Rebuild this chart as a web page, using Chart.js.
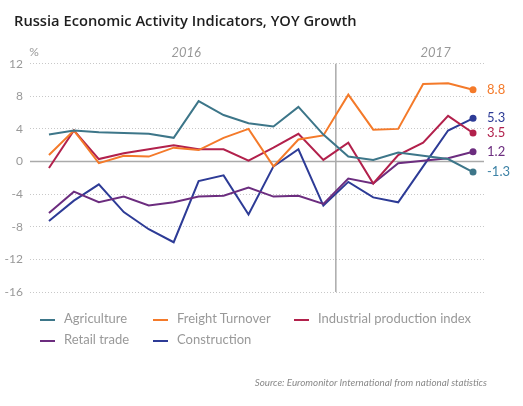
<!DOCTYPE html>
<html>
<head>
<meta charset="utf-8">
<script src="https://cdn.jsdelivr.net/npm/chart.js@4"></script>
<style>
  body { margin: 0; background: #fff; font-family: Lato, "Open Sans", sans-serif; }
  #wrap { position: relative; width: 523px; height: 406px; }
  #myChart { position: absolute; left: 0; top: 0; }
  #legend { position: absolute; left: 0; top: 0; width: 523px; height: 406px; pointer-events: none; }
  .item { position: absolute; font-size: 13px; color: #999; white-space: nowrap; line-height: 16px; }
  .item span.sw { display: inline-block; width: 15px; height: 2px; vertical-align: middle; margin-right: 9px; }
  #source { position: absolute; right: 36px; top: 376px; font-size: 9.8px; font-style: italic; color: #888; }
</style>
</head>
<body>
<div id="wrap">
  <canvas id="myChart" width="523" height="406"></canvas>
  <div id="legend"></div>
  <div id="source">Source: Euromonitor International from national statistics</div>
</div>
<script>
// months Jan 2016 .. Jun 2017
const months = ['Jan', 'Feb', 'Mar', 'Apr', 'May', 'Jun', 'Jul', 'Aug', 'Sep', 'Oct', 'Nov', 'Dec',
    'Jan', 'Feb', 'Mar', 'Apr', 'May', 'Jun'];
const years = ['2016', '2017'];
const yTicks = [12, 8, 4, 0, -4, -8, -12, -16];

const seriesNames = ['Agriculture', 'Freight Turnover', 'Industrial production index', 'Retail trade', 'Construction'];
const agriculture = [3.3, 3.8, 3.6, 3.5, 3.4, 2.9, 7.4, 5.7, 4.7, 4.3, 6.7, 3.3, 0.6, 0.2, 1.1, 0.7, 0.3, -1.3];
const freight = [0.8, 3.8, -0.2, 0.7, 0.6, 1.7, 1.4, 2.9, 4.0, -0.6, 2.7, 3.2, 8.2, 3.9, 4.0, 9.5, 9.6, 8.8];
const industrial = [-0.8, 3.8, 0.3, 1.0, 1.5, 2.0, 1.5, 1.5, 0.1, 1.7, 3.4, 0.2, 2.3, -2.7, 0.8, 2.3, 5.6, 3.5];
const retail = [-6.3, -3.7, -5.0, -4.3, -5.4, -5.0, -4.3, -4.2, -3.2, -4.3, -4.2, -5.2, -2.1, -2.7, -0.2, 0.1, 0.4, 1.2];
const construction = [-7.3, -4.8, -2.8, -6.2, -8.3, -9.9, -2.4, -1.7, -6.5, -0.6, 1.5, -5.4, -2.5, -4.4, -5.0, -0.6, 3.8, 5.3];

const colors = ['#3d7689', '#f47a2a', '#b2214c', '#6c2d7f', '#2d3b96'];
const labelColors = ['#3d82a6', '#f47a2a', '#b2214c', '#6c2d7f', '#2d3b96'];

const allSeries = [agriculture, freight, industrial, retail, construction];
const last = months.length - 1;

const datasets = allSeries.map(function (vals, i) {
    return {
        label: seriesNames[i],
        data: vals.map(function (v, j) { return {x: j, y: v}; }),
        borderColor: colors[i],
        backgroundColor: colors[i],
        borderWidth: 2,
        tension: 0,
        pointRadius: function (ctx) { return ctx.dataIndex === last ? 3.5 : 0; },
        pointBorderWidth: 0,
        pointHoverRadius: 0
    };
});

// zero line, year divider and year labels, % sign, end labels
const extras = {
    id: 'extras',
    afterLayout(chart) {
        // let the y tick labels use the space left of the axis
        chart.scales.y.left = 0;
    },
    beforeDatasetsDraw(chart) {
        const ctx = chart.ctx;
        const x = chart.scales.x, y = chart.scales.y;
        const a = chart.chartArea;
        ctx.save();
        ctx.strokeStyle = '#aaa';
        ctx.lineWidth = 1.5;
        ctx.beginPath();
        const y0 = y.getPixelForValue(0);
        ctx.moveTo(a.left, y0);
        ctx.lineTo(a.right, y0);
        const xd = x.getPixelForValue(11.5);
        ctx.moveTo(xd, a.top);
        ctx.lineTo(xd, a.bottom);
        ctx.stroke();
        ctx.restore();
    },
    afterDraw(chart) {
        const ctx = chart.ctx;
        const x = chart.scales.x;
        const a = chart.chartArea;
        ctx.save();
        ctx.fillStyle = '#999';
        ctx.font = 'italic 13px Lato, sans-serif';
        ctx.textAlign = 'center';
        ctx.textBaseline = 'middle';
        ctx.fillText(years[0], x.getPixelForValue(5.5), a.top - 11);
        ctx.fillText(years[1], x.getPixelForValue(15.5), a.top - 11);
        ctx.font = '12px Lato, sans-serif';
        ctx.fillText('%', 34, a.top - 12);
        ctx.font = '13px Lato, sans-serif';
        ctx.textAlign = 'left';
        chart.data.datasets.forEach(function (ds, i) {
            const pt = chart.getDatasetMeta(i).data[last];
            ctx.fillStyle = labelColors[i];
            ctx.fillText(allSeries[i][last].toFixed(1), pt.x + 14, pt.y);
        });
        ctx.restore();
    }
};

new Chart(document.getElementById('myChart'), {
    type: 'line',
    data: {datasets: datasets},
    plugins: [extras],
    options: {
        responsive: false,
        animation: false,
        layout: {padding: {left: 14, right: 39, top: 0, bottom: 114}},
        plugins: {
            legend: {display: false},
            tooltip: {enabled: false},
            title: {
                display: true,
                text: 'Russia Economic Activity Indicators, YOY Growth',
                align: 'start',
                color: '#1e1e1e',
                font: {family: 'Open Sans', size: 14.7, weight: '600'},
                padding: {top: 13, bottom: 33}
            }
        },
        scales: {
            x: {
                type: 'linear',
                display: false,
                min: -0.76,
                max: 17.44
            },
            y: {
                min: -16,
                max: 12,
                afterFit: function (s) { s.width = 16; },
                afterBuildTicks: function (s) { s.ticks = yTicks.map(function (v) { return {value: v}; }); },
                ticks: {color: '#999', padding: 7, font: {family: 'Lato', size: 12}},
                grid: {color: '#c8c8c8', lineWidth: 1, drawTicks: false},
                border: {display: false, dash: [1, 2]}
            }
        }
    }
});

// legend, laid out in columns like the original
const legendPos = [[40, 318], [153, 318], [294, 318], [40, 339], [153, 339]];
const legend = document.getElementById('legend');
seriesNames.forEach(function (name, i) {
    const d = document.createElement('div');
    d.className = 'item';
    d.style.left = legendPos[i][0] + 'px';
    d.style.top = (legendPos[i][1] - 8) + 'px';
    d.innerHTML = '<span class="sw" style="background:' + colors[i] + '"></span>' + name;
    legend.appendChild(d);
});
</script>
</body>
</html>
